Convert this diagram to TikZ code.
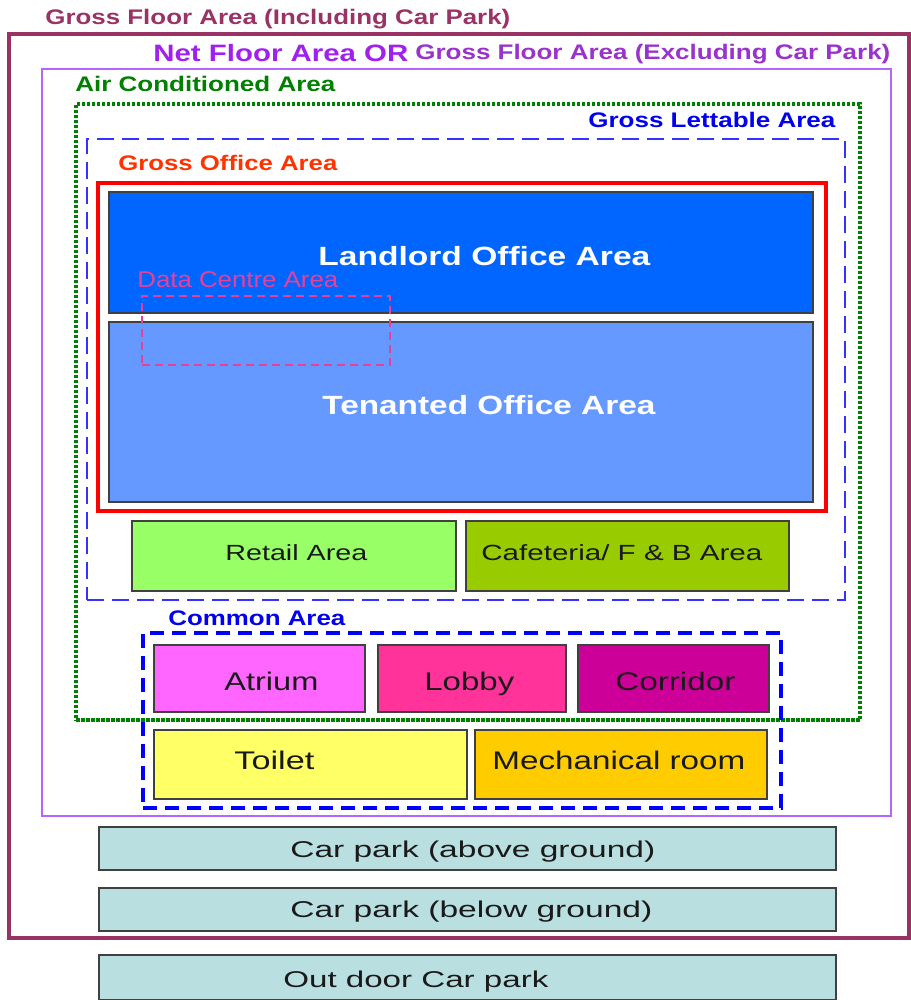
\documentclass[tikz,border=0pt]{standalone}
\usepackage{fontspec}
\setmainfont{Liberation Sans}
\usepackage{graphicx}
\usetikzlibrary{fit}
\newlength\px \setlength\px{0.02cm}
\newcommand\fitw[2]{\resizebox{#1\px}{\height}{#2}}
\definecolor{cMaroon}{HTML}{993366}
\definecolor{cPurple}{HTML}{A020F0}
\definecolor{cPurpleB}{HTML}{9933CC}
\definecolor{cPurpleLine}{HTML}{B366FF}
\definecolor{cGreen}{HTML}{008000}
\definecolor{cBlueT}{HTML}{0000EE}
\definecolor{cBlueLine}{HTML}{3333FF}
\definecolor{cRed}{HTML}{FF0000}
\definecolor{cRedT}{HTML}{FF3300}
\definecolor{cPink}{HTML}{E8409A}
\definecolor{cLandlord}{HTML}{0066FF}
\definecolor{cTenant}{HTML}{6699FF}
\definecolor{cRetail}{HTML}{99FF66}
\definecolor{cCafe}{HTML}{99CC00}
\definecolor{cAtrium}{HTML}{FF66FF}
\definecolor{cLobby}{HTML}{FF3399}
\definecolor{cCorridor}{HTML}{CC0099}
\definecolor{cToilet}{HTML}{FFFF66}
\definecolor{cMech}{HTML}{FFCC00}
\definecolor{cCar}{HTML}{B9DFE1}
\definecolor{cInk}{HTML}{1A1A1A}
\begin{document}
\begin{tikzpicture}[x=0.02cm, y=-0.02cm,
  frame/.style={draw, rectangle, inner sep=0pt},
  room/.style={draw=black!75, line width=0.8pt, rectangle, inner sep=0pt},
  lbl/.style={anchor=base west, inner sep=0pt},
  title/.style={lbl, font=\fontsize{12}{14}\selectfont\bfseries},
  big/.style={lbl, font=\fontsize{15}{18}\selectfont\bfseries, text=white},
  roomtxt/.style={lbl, font=\fontsize{14.5}{17}\selectfont, text=cInk},
  cartxt/.style={lbl, font=\fontsize{13}{16}\selectfont, text=cInk},
  smalltxt/.style={lbl, font=\fontsize{12.5}{15}\selectfont, text=cInk}]
\useasboundingbox (0,0) rectangle (911,1000);

% frames
\node[frame, draw=cMaroon, line width=4\px, fit={(9,34) (909,938)}] (gfa) {};
\node[frame, draw=cPurpleLine, line width=1.5\px, fit={(42,69) (891,816)}] (nfa) {};
\node[frame, draw=cGreen, line width=4\px, dash pattern=on 3.5\px off 1.5\px, fit={(76,104) (860,720)}] (aca) {};
\node[frame, draw=cBlueLine, line width=1.5\px, dash pattern=on 17\px off 8\px, fit={(87,139) (845,600)}] (gla) {};
\node[frame, draw=cRed, line width=4.5\px, fit={(98,183) (826,511)}] (goa) {};

% office rooms
\node[room, fill=cLandlord, fit={(109,192) (813,313)}] (landlord) {};
\node[room, fill=cTenant, fit={(109,322) (813,502)}] (tenant) {};
\node[frame, draw=cPink, line width=1.5\px, dash pattern=on 8\px off 5\px, fit={(142,296) (390,365)}] (dca) {};

% retail row
\node[room, fill=cRetail, fit={(132,521) (456,591)}] (retail) {};
\node[room, fill=cCafe, fit={(466,521) (789,591)}] (cafe) {};

% common area
\node[room, fill=cAtrium, fit={(154,645) (365,712)}] (atrium) {};
\node[room, fill=cLobby, fit={(378,645) (566,712)}] (lobby) {};
\node[room, fill=cCorridor, fit={(578,645) (769,712)}] (corridor) {};
\node[room, fill=cToilet, fit={(154,730) (467,799)}] (toilet) {};
\node[room, fill=cMech, fit={(475,730) (767,799)}] (mech) {};
\node[frame, draw=blue, line width=4.5\px, dash pattern=on 14\px off 8\px, fit={(143,633) (781,808)}] (common) {};

% car parks
\node[room, fill=cCar, fit={(99,827) (836,870)}] (cpa) {};
\node[room, fill=cCar, fit={(99,888) (836,931)}] (cpb) {};
\node[room, fill=cCar, fit={(99,955) (836,1000)}] (cpo) {};

% titles
\node[title, text=cMaroon] (t1) at (45,25) {\fitw{465}{Gross Floor Area (Including Car Park)}};
\node[title, text=cPurple, font=\fontsize{13.5}{16}\selectfont\bfseries] (t2) at (153,62) {\fitw{255}{Net Floor Area OR}};
\node[title, text=cPurpleB] (t3) at (415,60) {\fitw{475}{Gross Floor Area (Excluding Car Park)}};
\node[title, text=cGreen] (t4) at (75,92) {\fitw{260}{Air Conditioned Area}};
\node[title, text=cBlueT] (t5) at (588,128) {\fitw{247}{Gross Lettable Area}};
\node[title, text=cRedT] (t6) at (118,171) {\fitw{219}{Gross Office Area}};
\node[title, text=cBlueT] (t7) at (168,625) {\fitw{177}{Common Area}};
\node[smalltxt, text=cPink, font=\fontsize{13}{15}\selectfont] (t8) at (137,287) {\fitw{201}{Data Centre Area}};

% room texts
\node[big] (l1) at (318,265) {\fitw{332}{Landlord Office Area}};
\node[big] (l2) at (322,414) {\fitw{333}{Tenanted Office Area}};
\node[smalltxt] (l3) at (225,560) {\fitw{142}{Retail Area}};
\node[smalltxt] (l4) at (481,560) {\fitw{281}{Cafeteria/ F \& B Area}};
\node[roomtxt] (l5) at (224,690) {\fitw{94}{Atrium}};
\node[roomtxt] (l6) at (424,690) {\fitw{90}{Lobby}};
\node[roomtxt] (l7) at (615,690) {\fitw{120}{Corridor}};
\node[roomtxt] (l8) at (234,769) {\fitw{80}{Toilet}};
\node[roomtxt] (l9) at (492,769) {\fitw{253}{Mechanical room}};
\node[cartxt] (l10) at (290,857) {\fitw{365}{Car park (above ground)}};
\node[cartxt] (l11) at (290,917) {\fitw{362}{Car park (below ground)}};
\node[cartxt] (l12) at (283,987) {\fitw{265}{Out door Car park}};
\end{tikzpicture}
\end{document}
